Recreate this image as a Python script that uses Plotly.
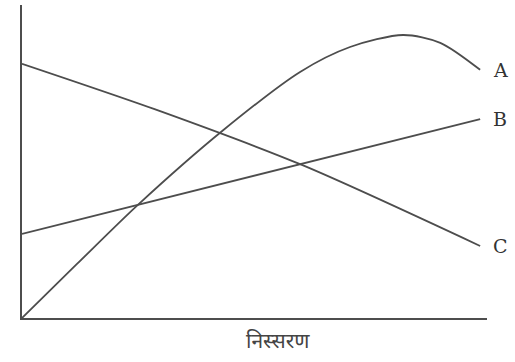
import plotly.graph_objects as go

# curve values (x: 0..100, y: 0..~104)
a_x = [0, 12, 25.3, 43.7, 60.7, 71.6, 83.2, 91.3, 100]
a_y = [0, 18, 37.7, 62.3, 82, 90.3, 94.3, 91.7, 82.7]
b_x = [0, 100]
b_y = [28, 66.3]
c_x = [0, 30, 61.1, 100]
c_y = [84.7, 69, 51, 24]
curve_names = ["A", "B", "C"]
x_label = "निस्सरण"

line_col = "#4d4d4d"
fig = go.Figure()
for xs, ys in [(a_x, a_y), (b_x, b_y), (c_x, c_y)]:
    fig.add_trace(go.Scatter(x=xs, y=ys, mode="lines",
                             line=dict(color=line_col, width=1.8, shape="spline", smoothing=0.8),
                             hoverinfo="skip", showlegend=False))

# end labels next to the last point of each curve
for name, xs, ys in zip(curve_names, [a_x, b_x, c_x], [a_y, b_y, c_y]):
    fig.add_annotation(x=xs[-1], y=ys[-1], text=name, showarrow=False,
                       xanchor="left", xshift=11,
                       font=dict(family="DejaVu Serif, serif", size=19, color="#333"))

fig.add_annotation(x=0.55, y=0, xref="paper", yref="paper", yshift=-25,
                   text=x_label, showarrow=False, yanchor="middle",
                   font=dict(family="Noto Sans Devanagari, Noto Sans, sans-serif", size=21, color="#444"))

fig.update_layout(
    width=515, height=362,
    margin=dict(l=22, r=28, t=5, b=44),
    paper_bgcolor="white", plot_bgcolor="white",
    xaxis=dict(range=[0, 101.5], showgrid=False, zeroline=False, showticklabels=False,
               ticks="", showline=True, linecolor=line_col, linewidth=1.8),
    yaxis=dict(range=[0, 104.3], showgrid=False, zeroline=False, showticklabels=False,
               ticks="", showline=True, linecolor=line_col, linewidth=1.8),
)
fig.write_html("out.html", config={"displayModeBar": False},
               post_script="document.body.style.margin='0';")
